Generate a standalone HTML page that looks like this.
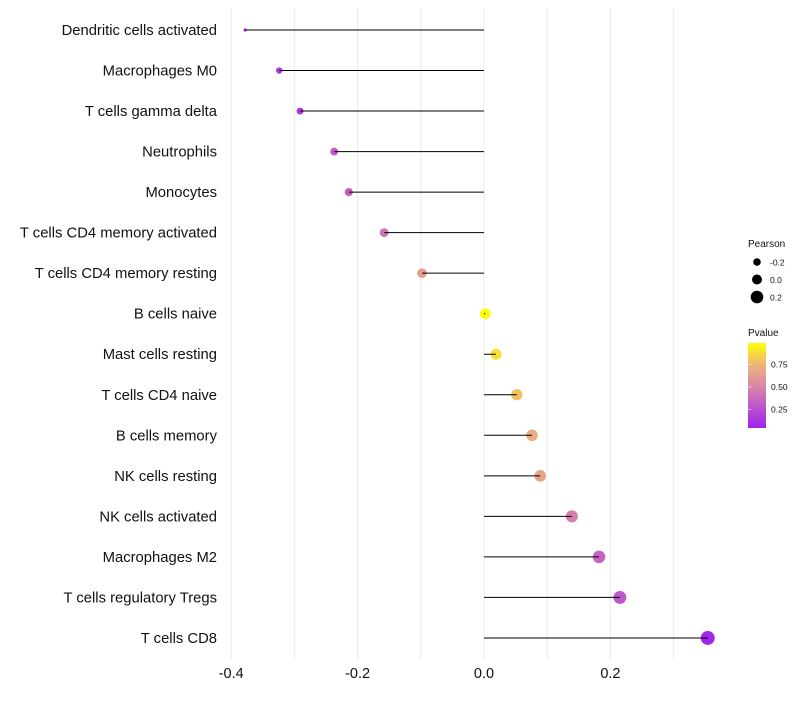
<!DOCTYPE html>
<html><head><meta charset="utf-8"><style>
body{margin:0;background:#fff;font-family:"Liberation Sans",sans-serif}
</style></head><body>
<svg id="c" width="800" height="700" xmlns="http://www.w3.org/2000/svg"></svg>
<script>
const categories=["Dendritic cells activated","Macrophages M0","T cells gamma delta","Neutrophils","Monocytes","T cells CD4 memory activated","T cells CD4 memory resting","B cells naive","Mast cells resting","T cells CD4 naive","B cells memory","NK cells resting","NK cells activated","Macrophages M2","T cells regulatory  Tregs ","T cells CD8"];
const pearson=[-0.378,-0.324,-0.291,-0.237,-0.214,-0.158,-0.098,0.002,0.019,0.052,0.076,0.089,0.139,0.182,0.215,0.354];
const pvalue=[0.04,0.1,0.12,0.28,0.3,0.4,0.62,0.99,0.9,0.8,0.7,0.66,0.45,0.32,0.25,0.03];
const xTicks=[-0.4,-0.2,0.0,0.2];
const xTickLabels=["-0.4","-0.2","0.0","0.2"];
const minorTicks=[-0.3,-0.1,0.1,0.3];
const legendSizes=[-0.2,0.0,0.2];
const legendPTicks=[0.25,0.5,0.75];

const svg=document.getElementById('c');const NS="http://www.w3.org/2000/svg";
function mk(t,a,p){const e=document.createElementNS(NS,t);for(const k in a)e.setAttribute(k,a[k]);(p||svg).appendChild(e);return e;}
const x=v=>484+v*632;
const y=i=>30+i*40.53;
const minP=Math.min(...pearson);
const rad=v=>v<=minP+1e-9?1.6:Math.sqrt(Math.max(2.5,28.8+57.2*v));
const stops=[[0,[160,32,240]],[0.5,[217,138,166]],[0.75,[238,180,120]],[1,[255,255,0]]];
function col(p){for(let i=1;i<stops.length;i++){if(p<=stops[i][0]){const a=stops[i-1],b=stops[i];const t=(p-a[0])/(b[0]-a[0]);const c=a[1].map((v,j)=>Math.round(v+(b[1][j]-v)*t));return `rgb(${c})`;}}return 'rgb(255,255,0)';}

minorTicks.forEach(v=>{const l=mk('line',{x1:x(v),x2:x(v),y1:8,y2:660,stroke:'#ebebeb','stroke-width':1});
});
xTicks.forEach((v,i)=>{const l=mk('line',{x1:x(v),x2:x(v),y1:8,y2:660,stroke:'#ebebeb','stroke-width':1});

const t=mk('text',{x:x(v),y:678,'text-anchor':'middle','font-size':14.5,fill:'#111'});t.textContent=xTickLabels[i];
});
categories.forEach((c,i)=>{
const t=mk('text',{x:217,y:y(i)+5,'text-anchor':'end','font-size':14.8,fill:'#111'});t.textContent=c;

const d=mk('circle',{cx:x(pearson[i]),cy:y(i),r:rad(pearson[i]),fill:col(pvalue[i])});

const s=mk('line',{x1:x(0),x2:x(pearson[i]),y1:y(i),y2:y(i),stroke:'#000','stroke-width':1});

});
const lt=mk('text',{x:748,y:247,'font-size':10,fill:'#111'});lt.textContent='Pearson';

legendSizes.forEach((v,i)=>{const cy=262+i*17.5;
const c=mk('circle',{cx:757,cy:cy,r:[3.8,5,6.3][i],fill:'#000'});
const t=mk('text',{x:770,y:cy+3.5,'font-size':8.5,fill:'#111'});t.textContent=(v===0?'0.0':String(v));
});
const pt=mk('text',{x:748,y:336,'font-size':10,fill:'#111'});pt.textContent='Pvalue';

const defs=mk('defs',{});const g=mk('linearGradient',{id:'gr',x1:0,y1:1,x2:0,y2:0},defs);
stops.forEach(s=>mk('stop',{offset:s[0],'stop-color':`rgb(${s[1]})`},g));
const bar=mk('rect',{x:748,y:343,width:18,height:85,fill:'url(#gr)'});

const py=p=>343+(0.99-p)*90;
legendPTicks.forEach(p=>{const tl=mk('line',{x1:748,x2:751,y1:py(p),y2:py(p),stroke:'#fff','stroke-width':0.6});

const t=mk('text',{x:771,y:py(p)+3,'font-size':8.5,fill:'#111'});t.textContent=p.toFixed(2);
});
</script>
</body></html>
